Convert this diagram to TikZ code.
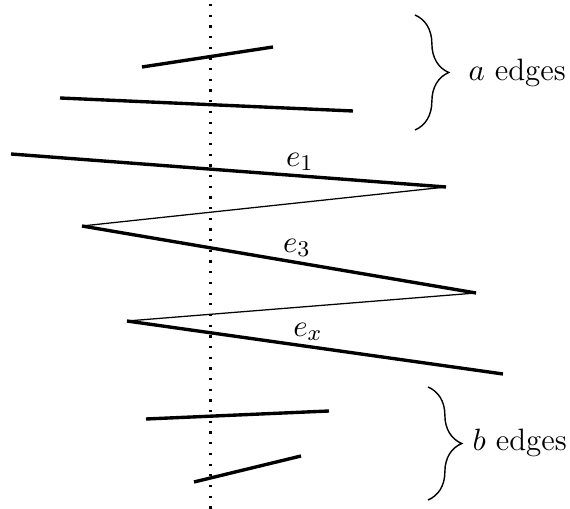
\documentclass[tikz,border=0pt]{standalone}
\usepackage{amsmath,amssymb}
\usetikzlibrary{decorations.pathreplacing}

\begin{document}
\begin{tikzpicture}[x=0.0125cm, y=-0.0125cm,
    every node/.style={font=\fontsize{11}{13}\selectfont},
    edgeline/.style={line width=1.2pt},
    linkline/.style={line width=0.45pt},
    bracedeco/.style={decorate, decoration={brace, amplitude=12pt}, line width=0.5pt}]
    \useasboundingbox (0,0) rectangle (570,509);

    % Cut
    \coordinate (cuttop) at (210.5,4);
    \coordinate (cutbot) at (210.5,509);
    \draw[dash pattern=on 0.8pt off 3pt, line width=0.8pt] (cuttop) -- (cutbot);

    % a edges
    \coordinate (a1s) at (142,67);
    \coordinate (a1t) at (273,47);
    \coordinate (a2s) at (60,98);
    \coordinate (a2t) at (353,111);
    \draw[edgeline] (a1s) -- (a1t);
    \draw[edgeline] (a2s) -- (a2t);

    % Zigzag
    \coordinate (z0) at (11,154);
    \coordinate (z1) at (446,187);
    \coordinate (z2) at (82,226);
    \coordinate (z3) at (476,293);
    \coordinate (z4) at (127,321);
    \coordinate (z5) at (503,374);
    \draw[edgeline] (z0) -- (z1);
    \draw[linkline] (z1) -- (z2);
    \draw[edgeline] (z2) -- (z3);
    \draw[linkline] (z3) -- (z4);
    \draw[edgeline] (z4) -- (z5);
    \node (e1) at (300,162) {$e_1$};
    \node (e3) at (297,248) {$e_3$};
    \node (ex) at (308,332) {$e_x$};

    % b edges
    \coordinate (b1s) at (146,419);
    \coordinate (b1t) at (329,411);
    \coordinate (b2s) at (194,482);
    \coordinate (b2t) at (301,456);
    \draw[edgeline] (b1s) -- (b1t);
    \draw[edgeline] (b2s) -- (b2t);

    % Braces
    \coordinate (abt) at (415,15);
    \coordinate (abb) at (415,130);
    \draw[bracedeco] (abt) -- (abb);
    \node[anchor=west, inner sep=0pt] (alabel) at (468,73) {$a$ edges};

    \coordinate (bbt) at (428,387);
    \coordinate (bbb) at (428,500);
    \draw[bracedeco] (bbt) -- (bbb);
    \node[anchor=west, inner sep=0pt] (blabel) at (472,443) {$b$ edges};
\end{tikzpicture}
\end{document}
